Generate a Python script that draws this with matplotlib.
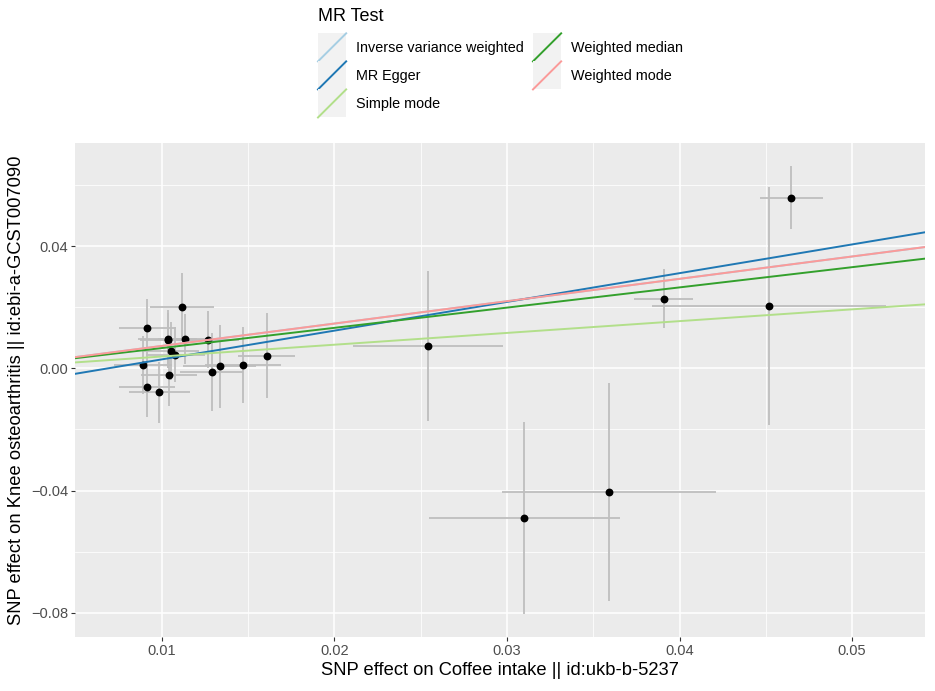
import numpy as np
import matplotlib
matplotlib.use("Agg")
import matplotlib.pyplot as plt
from matplotlib.legend_handler import HandlerBase
from matplotlib.patches import Rectangle
from matplotlib.lines import Line2D

plt.rcParams['font.family'] = ['Liberation Sans', 'DejaVu Sans']

# SNP effects
bx = [0.01116, 0.00917, 0.01036, 0.01039, 0.01137, 0.01268, 0.01056, 0.01079,
      0.00892, 0.01289, 0.01336, 0.01473, 0.01608, 0.01042, 0.00915, 0.00987,
      0.02544, 0.03101, 0.03592, 0.03908, 0.04518, 0.04647]
by = [0.0201, 0.0132, 0.0097, 0.0092, 0.0096, 0.0094, 0.0058, 0.0044,
      0.0011, -0.0011, 0.0007, 0.0010, 0.0041, -0.0021, -0.0061, -0.0079,
      0.0074, -0.0491, -0.0404, 0.0228, 0.0203, 0.0559]
se_x = [0.00185, 0.00164, 0.00170, 0.00165, 0.00160, 0.00180, 0.00160, 0.00170,
        0.00170, 0.00180, 0.00210, 0.00220, 0.00165, 0.00164, 0.00160, 0.00176,
        0.00434, 0.00552, 0.00620, 0.00169, 0.00680, 0.00183]
se_y = [0.0110, 0.0096, 0.0095, 0.0090, 0.0082, 0.0093, 0.0095, 0.0090,
        0.0095, 0.0128, 0.0136, 0.0125, 0.0139, 0.0104, 0.0097, 0.0101,
        0.0245, 0.0314, 0.0357, 0.0096, 0.0390, 0.0104]

methods = ["Inverse variance weighted", "MR Egger", "Simple mode",
           "Weighted median", "Weighted mode"]
intercepts = [0.0, -0.0065, 0.0, 0.0, 0.0]
slopes = [0.732, 0.941, 0.386, 0.662, 0.732]
colours = ["#a6cee3", "#1f78b4", "#b2df8a", "#33a02c", "#fb9a99"]

bx, by, se_x, se_y = map(np.array, (bx, by, se_x, se_y))


class DiagKey(HandlerBase):
    # ggplot style key: grey box with a diagonal line
    def create_artists(self, legend, orig_handle, xdescent, ydescent,
                       width, height, fontsize, trans):
        bg = Rectangle((-xdescent, -ydescent), width, height,
                       facecolor="#F2F2F2", edgecolor="none", transform=trans)
        ln = Line2D([-xdescent, -xdescent + width], [-ydescent, -ydescent + height],
                    color=orig_handle.get_color(), lw=1.4, transform=trans)
        return [bg, ln]


fig = plt.figure(figsize=(9.35, 6.91), dpi=100)
ax = fig.add_axes([75 / 935, 1 - 636.7 / 691, 850 / 935, (636.7 - 143.3) / 691])
ax.set_facecolor("#EBEBEB")

ax.errorbar(bx, by, yerr=se_y, fmt="none", ecolor="#BEBEBE", elinewidth=1.3, capsize=0, zorder=2)
ax.errorbar(bx, by, xerr=se_x, fmt="none", ecolor="#BEBEBE", elinewidth=1.3, capsize=0, zorder=2)
ax.scatter(bx, by, s=32, color="black", zorder=3, linewidths=0)

handles = []
for m, a, b, c in zip(methods, intercepts, slopes, colours):
    ax.axline((0, a), slope=b, color=c, lw=1.4, zorder=4)
    handles.append(Line2D([], [], color=c, label=m))

# ggplot-like 5% expansion
xlo, xhi = (bx - se_x).min(), (bx + se_x).max()
ylo, yhi = (by - se_y).min(), (by + se_y).max()
ax.set_xlim(xlo - 0.05 * (xhi - xlo), xhi + 0.05 * (xhi - xlo))
ax.set_ylim(ylo - 0.05 * (yhi - ylo), yhi + 0.05 * (yhi - ylo))

ax.set_xticks([0.01, 0.02, 0.03, 0.04, 0.05])
ax.set_xticklabels(["0.01", "0.02", "0.03", "0.04", "0.05"])
ax.set_yticks([-0.08, -0.04, 0.0, 0.04])
ax.set_yticklabels(["\u22120.08", "\u22120.04", "0.00", "0.04"])
ax.set_xticks([0.015, 0.025, 0.035, 0.045], minor=True)
ax.set_yticks([-0.06, -0.02, 0.02, 0.06], minor=True)
ax.grid(which="major", color="white", lw=1.1, zorder=0)
ax.grid(which="minor", color="white", lw=0.55, zorder=0)
ax.set_axisbelow(True)
for s in ax.spines.values():
    s.set_visible(False)
ax.tick_params(which="major", length=3, width=0.8, color="#333333",
               labelcolor="#4D4D4D", labelsize=10.5, pad=2)
ax.tick_params(which="minor", length=0)

ax.set_xlabel("SNP effect on Coffee intake || id:ukb-b-5237", fontsize=13.2, labelpad=3)
ax.set_ylabel("SNP effect on Knee osteoarthritis || id:ebi-a-GCST007090", fontsize=13.2, labelpad=4)

leg = fig.legend(handles=handles, loc="upper left", bbox_to_anchor=(318 / 935, 1 - 8 / 691),
                 ncol=2, frameon=False, title="MR Test", title_fontsize=13, fontsize=10.4,
                 handler_map={Line2D: DiagKey()}, handlelength=1.95, handleheight=2.61,
                 labelspacing=0, handletextpad=0.69, columnspacing=0.63, borderpad=0,
                 borderaxespad=0, alignment="left")
leg._legend_box.sep = 6  # gap between title and keys

fig.savefig("out.png", dpi=100)
